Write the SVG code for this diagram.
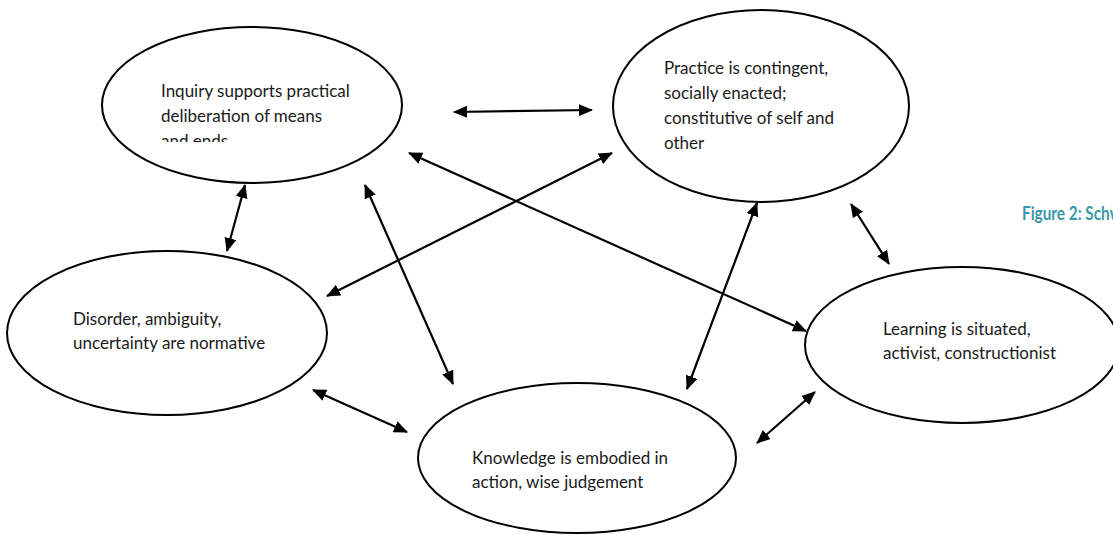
<svg xmlns="http://www.w3.org/2000/svg" width="1113" height="535" viewBox="0 0 1113 535">
<style>
.node ellipse{fill:#fff;stroke:#000;stroke-width:2}
.node text{font-family:Lato,"Open Sans","Liberation Sans",sans-serif;font-size:17px;fill:#1a1a1a}
.conn line{stroke:#000;stroke-width:2.2;marker-start:url(#ah);marker-end:url(#ah)}
.title{font-family:Lato,"Open Sans","Liberation Sans",sans-serif;font-size:18px;font-weight:bold;fill:#3a97a8}
</style>
<defs>
<marker id="ah" viewBox="0 0 14 12" refX="13" refY="6" markerWidth="14" markerHeight="12" markerUnits="userSpaceOnUse" orient="auto-start-reverse">
<path d="M0,0 L14,6 L0,12 z" fill="#000"/>
</marker>
<clipPath id="clipInq"><rect x="100" y="20" width="310" height="122"/></clipPath>
</defs>
<rect width="1113" height="535" fill="#fff"/>
<g id="inquiry" class="node">
<ellipse cx="252" cy="105" rx="150" ry="78"/>
<g clip-path="url(#clipInq)">
<text x="161" y="97">Inquiry supports practical</text>
<text x="161" y="122">deliberation of means</text>
<text x="161" y="147">and ends</text>
</g>
</g>
<g id="practice" class="node">
<ellipse cx="761" cy="106" rx="148" ry="96"/>
<text x="664" y="74">Practice is contingent,</text>
<text x="664" y="99">socially enacted;</text>
<text x="664" y="124">constitutive of self and</text>
<text x="664" y="149">other</text>
</g>
<g id="disorder" class="node">
<ellipse cx="167" cy="333" rx="160" ry="82"/>
<text x="73" y="325">Disorder, ambiguity,</text>
<text x="73" y="349">uncertainty are normative</text>
</g>
<g id="learning" class="node">
<ellipse cx="962" cy="345" rx="157" ry="78"/>
<text x="883" y="335">Learning is situated,</text>
<text x="883" y="359">activist, constructionist</text>
</g>
<g id="knowledge" class="node">
<ellipse cx="577" cy="458" rx="159" ry="75"/>
<text x="472" y="464">Knowledge is embodied in</text>
<text x="472" y="488">action, wise judgement</text>
</g>
<text class="title" x="1022" y="220" textLength="100" lengthAdjust="spacingAndGlyphs">Figure 2: Schw</text>
<g id="connectors" class="conn">
<line x1="454" y1="112" x2="592" y2="110"/>
<line x1="245" y1="185" x2="227" y2="251"/>
<line x1="612" y1="153" x2="327" y2="296"/>
<line x1="365" y1="185" x2="453" y2="384"/>
<line x1="409" y1="153" x2="806" y2="331"/>
<line x1="757" y1="203" x2="687" y2="389"/>
<line x1="851" y1="204" x2="889" y2="264"/>
<line x1="313" y1="390" x2="407" y2="432"/>
<line x1="757" y1="443" x2="815" y2="392"/>
</g>
</svg>
